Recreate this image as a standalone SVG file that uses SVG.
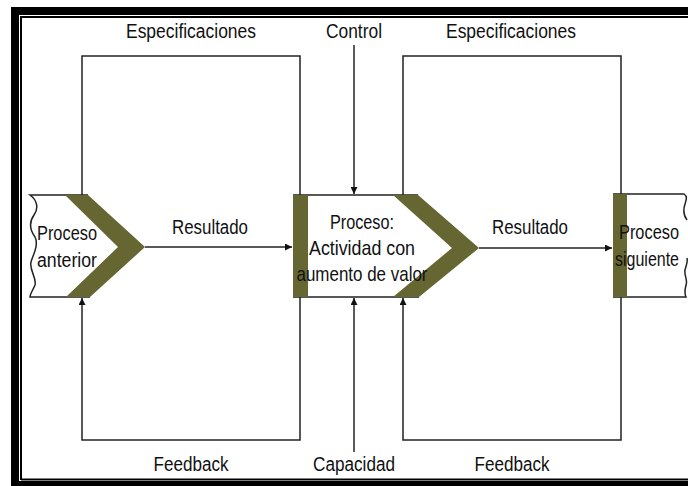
<svg xmlns="http://www.w3.org/2000/svg" width="688" height="486" viewBox="0 0 688 486">
<style>
.ln{fill:none;stroke:#222;stroke-width:1.5}
.ol{fill:#666633;stroke:none}
.t{font-family:"Liberation Sans",Arial,sans-serif;font-size:20px;fill:#111;text-anchor:middle}
.m{font-size:21px}
</style>
<defs>
<marker id="ah" viewBox="0 0 10 10" refX="10" refY="5" markerWidth="7" markerHeight="7" markerUnits="userSpaceOnUse" orient="auto">
<path d="M0,0 L10,5 L0,10 z" fill="#111"/>
</marker>
</defs>
<rect x="0" y="0" width="688" height="486" fill="#fff"/>
<g id="frame">
<path d="M15,486 V11 H688" fill="none" stroke="#000" stroke-width="8"/>
<path d="M688,483.5 H15" fill="none" stroke="#000" stroke-width="5"/>
<path d="M21,480 V17 H688 M21,479.5 H688" fill="none" stroke="#000" stroke-width="2"/>
</g>
<g id="connectors">
<path class="ln" d="M82,195 V56 H300 V195"/>
<path class="ln" d="M300,297 V440 H82 V298" marker-end="url(#ah)"/>
<path class="ln" d="M403,195 V56 H621 V194"/>
<path class="ln" d="M621,297 V440 H403 V298" marker-end="url(#ah)"/>
<path class="ln" d="M354,45 V194" marker-end="url(#ah)"/>
<path class="ln" d="M354,452 V298" marker-end="url(#ah)"/>
<path class="ln" d="M145,247 H292" marker-end="url(#ah)"/>
<path class="ln" d="M479,248 H612" marker-end="url(#ah)"/>
</g>
<g id="labels">
<text class="t" x="191" y="38" textLength="130" lengthAdjust="spacingAndGlyphs">Especificaciones</text>
<text class="t" x="354" y="38" textLength="56" lengthAdjust="spacingAndGlyphs">Control</text>
<text class="t" x="511" y="38" textLength="130" lengthAdjust="spacingAndGlyphs">Especificaciones</text>
<text class="t" x="210" y="234" textLength="76" lengthAdjust="spacingAndGlyphs">Resultado</text>
<text class="t" x="530" y="234" textLength="76" lengthAdjust="spacingAndGlyphs">Resultado</text>
<text class="t" x="191" y="471" textLength="75" lengthAdjust="spacingAndGlyphs">Feedback</text>
<text class="t" x="354" y="471" textLength="82" lengthAdjust="spacingAndGlyphs">Capacidad</text>
<text class="t" x="512" y="471" textLength="75" lengthAdjust="spacingAndGlyphs">Feedback</text>
</g>
<g id="node-anterior">
<path d="M30,195 H88 L145,247 L90,297 H30 Z" fill="#fff"/>
<path class="ln" d="M88,195 H30 C37,200 39,208 34,215 C29,222 30,230 35,237 C39,245 33,255 31,262 C29,270 37,278 35,285 C33,290 30,294 30,297 H90"/>
<polygon class="ol" points="65,195 88,195 145,247 90,297 66,297 118,247"/>
<text class="t" x="67" y="240" textLength="60" lengthAdjust="spacingAndGlyphs">Proceso</text>
<text class="t" x="67" y="267" textLength="60" lengthAdjust="spacingAndGlyphs">anterior</text>
</g>
<g id="node-proceso">
<path d="M293,195 H418 L479,248 L419,297 H293 Z" fill="#fff"/>
<path class="ln" d="M293,195 H418 M293,297 H419"/>
<rect class="ol" x="293" y="195" width="15" height="102"/>
<polygon class="ol" points="393,195 418,195 479,248 419,297 393,297 452,248"/>
<text class="t m" x="362" y="229" textLength="64" lengthAdjust="spacingAndGlyphs">Proceso:</text>
<text class="t m" x="362" y="255" textLength="106" lengthAdjust="spacingAndGlyphs">Actividad con</text>
<text class="t m" x="362" y="281" textLength="131" lengthAdjust="spacingAndGlyphs">aumento de valor</text>
</g>
<g id="node-siguiente">
<path d="M613,194 H684 V297 H613 Z" fill="#fff"/>
<path class="ln" d="M613,194 H684 C688,197 686,200 685,204 C683,210 684,216 687,220 M613,297 H686 C684,293 685,289 686,285 C688,280 684,276 685,270 C686,266 688,262 687,258"/>
<rect class="ol" x="613" y="194" width="14" height="103"/>
<text class="t" x="649" y="239" textLength="60" lengthAdjust="spacingAndGlyphs">Proceso</text>
<text class="t" x="647" y="266" textLength="64" lengthAdjust="spacingAndGlyphs">siguiente</text>
</g>
</svg>
